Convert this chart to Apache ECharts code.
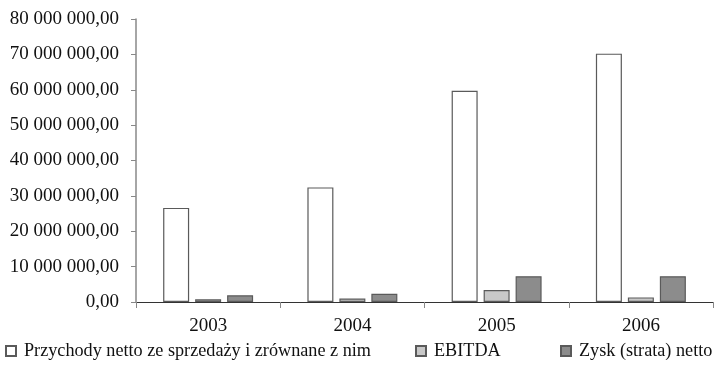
<!DOCTYPE html>
<html><head><meta charset="utf-8">
<script src="https://cdn.jsdelivr.net/npm/echarts@6/dist/echarts.min.js"></script>
<style>html,body{margin:0;padding:0;background:#fff}#c{width:720px;height:368px}</style>
</head><body><div id="c"></div>
<script>
var categories = ['2003', '2004', '2005', '2006'];
var przychody = [26600000, 32400000, 59700000, 70200000];
var ebitda = [760000, 1000000, 3400000, 1300000];
var zysk = [1900000, 2350000, 7300000, 7300000];
var seriesNames = ['Przychody netto ze sprzedaży i zrównane z nim', 'EBITDA', 'Zysk (strata) netto'];

function fmt(v) {
  var s = Math.round(v).toString().replace(/\B(?=(\d{3})+(?!\d))/g, ' ');
  return s + ',00';
}
var font = '"Liberation Serif", "Times New Roman", serif';
var chart = echarts.init(document.getElementById('c'));
var border = '#5a5a5a';
var lg = function (name, left) {
  return {
    data: [name], left: left, top: 342, icon: 'rect', itemWidth: 10, itemHeight: 10, itemGap: 0,
    textStyle: { fontFamily: font, fontSize: 18.2, color: '#111', padding: [0, 0, 0, 3] },
    padding: 0
  };
};
chart.setOption({
  animation: false,
  backgroundColor: '#fff',
  textStyle: { fontFamily: font },
  grid: { left: 136, right: 7, top: 19, bottom: 66, containLabel: false },
  legend: [lg(seriesNames[0], 5), lg(seriesNames[1], 415), lg(seriesNames[2], 560)],
  xAxis: {
    type: 'category', data: categories,
    axisLine: { lineStyle: { color: '#333', width: 1 } },
    axisTick: { show: true, length: 6, lineStyle: { color: '#888' } },
    axisLabel: { fontFamily: font, fontSize: 19, color: '#111', margin: 15 }
  },
  yAxis: {
    type: 'value', min: 0, max: 80000000, interval: 10000000,
    axisLine: { show: true, lineStyle: { color: '#888', width: 1.5 } },
    axisTick: { show: true, length: 5, lineStyle: { color: '#888' } },
    splitLine: { show: false },
    axisLabel: { fontFamily: font, fontSize: 19, color: '#111', margin: 17, formatter: fmt }
  },
  series: [
    { name: seriesNames[0], type: 'bar', data: przychody, barWidth: 26, barGap: '23%',
      itemStyle: { color: '#ffffff', borderColor: border, borderWidth: 1.2 } },
    { name: seriesNames[1], type: 'bar', data: ebitda, barWidth: 26,
      itemStyle: { color: '#c8c8c8', borderColor: border, borderWidth: 1.2 } },
    { name: seriesNames[2], type: 'bar', data: zysk, barWidth: 26,
      itemStyle: { color: '#8c8c8c', borderColor: border, borderWidth: 1.2 } }
  ]
});
</script></body></html>
